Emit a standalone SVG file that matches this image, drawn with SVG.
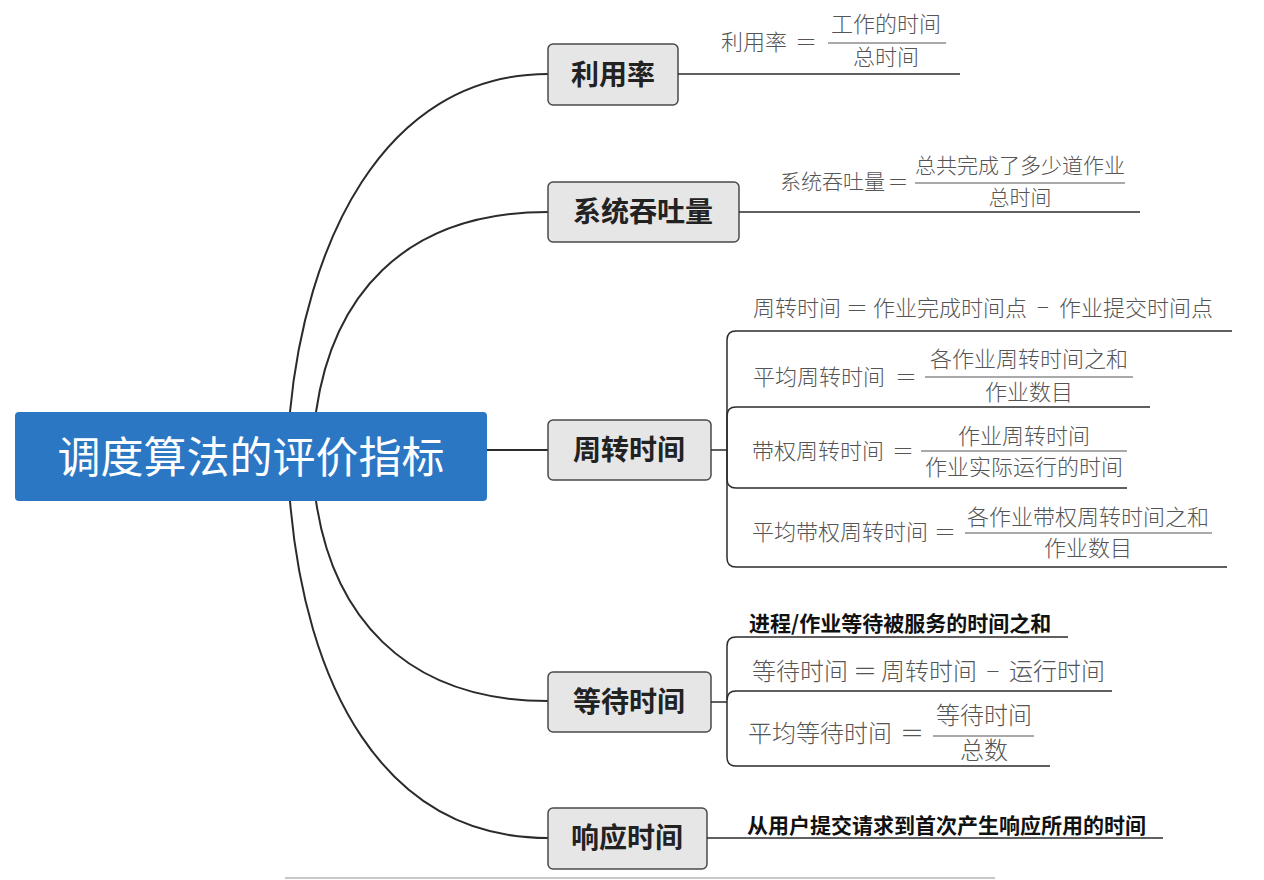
<svg xmlns="http://www.w3.org/2000/svg" width="1264" height="880" viewBox="0 0 1264 880">
<style>
.node rect{fill:#e6e6e6;stroke:#4a4a4a;stroke-width:1.5}
.node text{font-family:"Noto Sans CJK SC",sans-serif;font-weight:bold;font-size:28px;fill:#222;text-anchor:middle}
.f{font-family:"Noto Sans CJK SC",sans-serif;font-size:22px;font-weight:300;fill:#555}
.s{font-size:21px}
.f2{font-family:"Noto Sans CJK SC",sans-serif;font-size:24px;font-weight:300;fill:#555}
.m{text-anchor:middle}
.b{font-family:"Noto Sans CJK SC",sans-serif;font-size:21px;font-weight:bold;fill:#111}
.bar{stroke:#555;stroke-width:1.2}
.c path,.c line{fill:none;stroke:#2b2b2b;stroke-width:2}
.u{fill:none;stroke:#2b2b2b;stroke-width:1.5}
</style>
<rect width="1264" height="880" fill="#ffffff"/>
<g class="c" id="connectors">
<path d="M290,412 C305,250 380,74 548,74"/>
<path d="M316,412 C332,300 400,212 548,212"/>
<line x1="487" y1="450" x2="548" y2="450"/>
<path d="M316,501 C332,610 400,701 548,701"/>
<path d="M290,501 C305,680 380,838 548,838"/>
</g>
<g id="root">
<rect x="15" y="412" width="472" height="89" rx="4" fill="#2b77c4"/>
<text x="251" y="473" font-family="Noto Sans CJK SC, sans-serif" font-size="43" fill="#ffffff" text-anchor="middle">调度算法的评价指标</text>
</g>
<g id="n1" class="node">
<rect x="548" y="44" width="130" height="61" rx="5"/>
<text x="613" y="85">利用率</text>
</g>
<g id="n1-detail">
<line class="u" x1="678" y1="74" x2="960" y2="74"/>
<text class="f" x="721" y="50">利用率</text>
<text class="f m" x="806" y="50">＝</text>
<text class="f m" x="886" y="32">工作的时间</text>
<line class="bar" x1="828" y1="43" x2="946" y2="43"/>
<text class="f m" x="886" y="65">总时间</text>
</g>
<g id="n2" class="node">
<rect x="548" y="182" width="191" height="60" rx="5"/>
<text x="643" y="222">系统吞吐量</text>
</g>
<g id="n2-detail">
<line class="u" x1="739" y1="212" x2="1140" y2="212"/>
<text class="f s" x="780" y="189">系统吞吐量</text>
<text class="f s m" x="898" y="189">＝</text>
<text class="f s m" x="1020" y="173">总共完成了多少道作业</text>
<line class="bar" x1="915" y1="183" x2="1125" y2="183"/>
<text class="f s m" x="1020" y="205">总时间</text>
</g>
<g id="n3" class="node">
<rect x="548" y="420" width="163" height="60" rx="5"/>
<text x="629" y="460">周转时间</text>
</g>
<g id="n3-detail">
<line class="u" x1="711" y1="450" x2="727" y2="450"/>
<path class="u" d="M1232,331 H736 Q727,331 727,340 V558 Q727,567 736,567 H1227"/>
<path class="u" d="M1150,407 H736 Q727,407 727,416 V479 Q727,488 736,488 H1127"/>
<text class="f" x="753" y="316">周转时间</text>
<text class="f m" x="857" y="316">＝</text>
<text class="f" x="873" y="316">作业完成时间点</text>
<text class="f m" x="1043" y="316">−</text>
<text class="f" x="1059" y="316">作业提交时间点</text>
<text class="f" x="753" y="385">平均周转时间</text>
<text class="f m" x="906" y="385">＝</text>
<text class="f m" x="1029" y="367">各作业周转时间之和</text>
<line class="bar" x1="925" y1="377" x2="1133" y2="377"/>
<text class="f m" x="1029" y="400">作业数目</text>
<text class="f" x="752" y="459">带权周转时间</text>
<text class="f m" x="903" y="459">＝</text>
<text class="f m" x="1024" y="444">作业周转时间</text>
<line class="bar" x1="921" y1="451" x2="1127" y2="451"/>
<text class="f m" x="1024" y="475">作业实际运行的时间</text>
<text class="f" x="752" y="540">平均带权周转时间</text>
<text class="f m" x="945" y="540">＝</text>
<text class="f m" x="1088" y="525">各作业带权周转时间之和</text>
<line class="bar" x1="965" y1="533" x2="1212" y2="533"/>
<text class="f m" x="1088" y="556">作业数目</text>
</g>
<g id="n4" class="node">
<rect x="548" y="672" width="163" height="60" rx="5"/>
<text x="629" y="712">等待时间</text>
</g>
<g id="n4-detail">
<line class="u" x1="711" y1="702" x2="727" y2="702"/>
<path class="u" d="M1068,637 H736 Q727,637 727,646 V757 Q727,766 736,766 H1050"/>
<path class="u" d="M1112,691 H736 Q727,691 727,700"/>
<text class="b" x="749" y="631">进程/作业等待被服务的时间之和</text>
<text class="f2" x="752" y="680">等待时间</text>
<text class="f2 m" x="865" y="680">＝</text>
<text class="f2" x="881" y="680">周转时间</text>
<text class="f2 m" x="993" y="680">−</text>
<text class="f2" x="1009" y="680">运行时间</text>
<text class="f2" x="748" y="742">平均等待时间</text>
<text class="f2 m" x="912" y="742">＝</text>
<text class="f2 m" x="984" y="724">等待时间</text>
<line class="bar" x1="933" y1="736" x2="1034" y2="736"/>
<text class="f2 m" x="984" y="759">总数</text>
</g>
<g id="n5" class="node">
<rect x="548" y="808" width="159" height="61" rx="5"/>
<text x="627" y="848">响应时间</text>
</g>
<g id="n5-detail">
<line class="u" x1="707" y1="838" x2="1163" y2="838"/>
<text class="b" x="747" y="833">从用户提交请求到首次产生响应所用的时间</text>
</g>
<line x1="285" y1="878" x2="995" y2="878" stroke="#c8c8c8" stroke-width="2"/>
</svg>
